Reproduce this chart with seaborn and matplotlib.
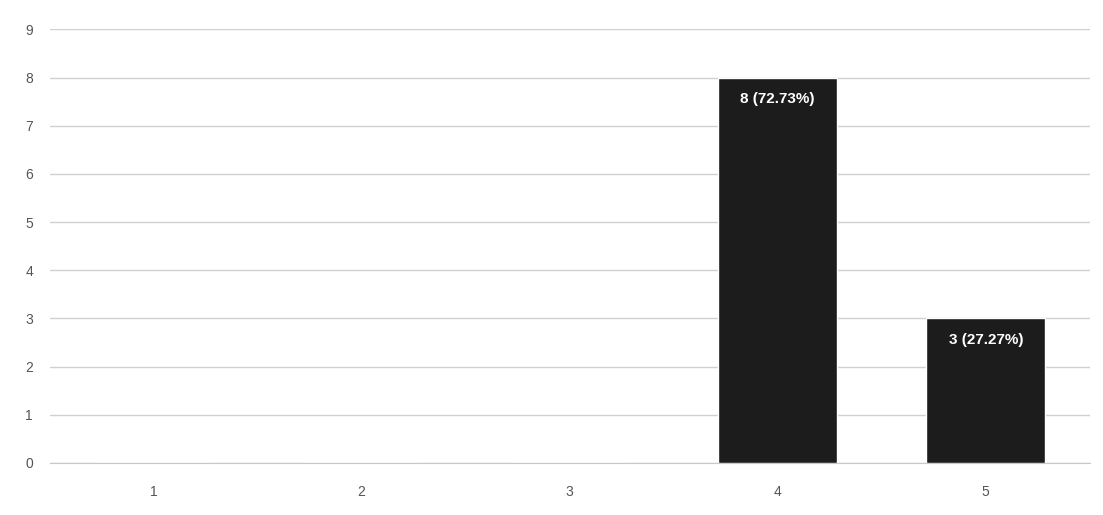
import matplotlib
matplotlib.use('Agg')
import matplotlib.pyplot as plt
import seaborn as sns
import pandas as pd

# Data
categories = ['1', '2', '3', '4', '5']
counts = [0, 0, 0, 8, 3]
labels = ['', '', '', '8 (72.73%)', '3 (27.27%)']

df = pd.DataFrame({'cat': categories, 'count': counts})

sns.set_style('white')
plt.rcParams['font.family'] = ['Liberation Sans', 'DejaVu Sans']

fig = plt.figure(figsize=(11.03, 5.15), dpi=100)
ax = fig.add_axes([0.045, 0.101, 0.943, 0.842])

sns.barplot(data=df, x='cat', y='count', color='#1c1c1c', width=0.57,
            saturation=1, ax=ax, zorder=3)

ax.set_ylim(0, 9)
ax.set_xlim(-0.5, 4.5)
ax.set_yticks(range(0, 10))
ax.yaxis.grid(True, color='#d0d0d0', linewidth=1, zorder=0)
ax.set_axisbelow(True)
for s in ['top', 'right', 'left']:
    ax.spines[s].set_visible(False)
ax.spines['bottom'].set_color('#c8c8c8')
ax.tick_params(axis='y', length=0, labelsize=10, colors='#555555', pad=12)
ax.tick_params(axis='x', length=0, labelsize=10, colors='#555555', pad=16)
ax.set_xlabel('')
ax.set_ylabel('')

# bar labels inside top of bars
for bar, lab in zip(ax.patches, labels):
    if lab:
        ax.text(bar.get_x() + bar.get_width() / 2, bar.get_height() - 0.3, lab,
                ha='center', va='top', color='white', fontsize=11, fontweight='bold')

fig.savefig('out.png', dpi=100)
